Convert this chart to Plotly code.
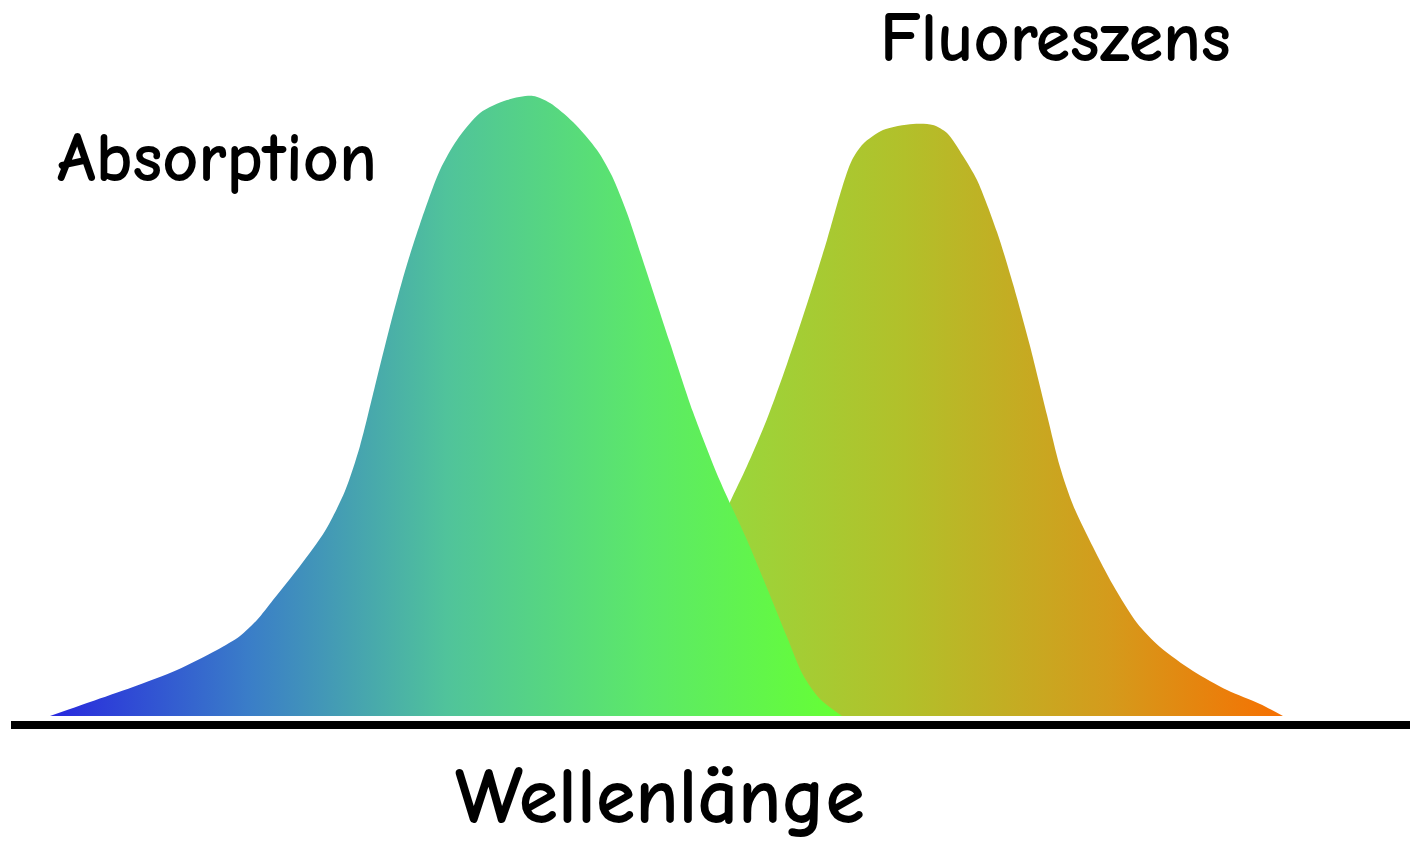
import plotly.graph_objects as go

# Absorption band: wavelength position (arbitrary units) and intensity
abs_x = [50, 90, 133, 177, 217, 240, 257, 273, 300, 325, 345, 360, 375, 390, 405, 420, 440, 457,
         480, 507, 533, 550, 573, 597, 612, 627, 647, 670, 693, 720, 747, 767, 787, 803, 820, 842]
abs_y = [0, 14, 29, 46, 66, 80, 96, 116, 150, 185, 225, 270, 330, 390, 445, 492, 546, 576,
         603, 616, 620, 613, 594, 566, 540, 503, 443, 373, 304, 235, 176, 128, 79, 41, 17, 0]

# Fluorescence band
flu_x = [600, 620, 640, 660, 680, 700, 715, 730, 747, 767, 787, 807, 827, 842, 852, 863, 883, 913,
         933, 947, 963, 977, 997, 1013, 1030, 1047, 1060, 1073, 1093, 1113, 1137, 1160, 1193, 1227,
         1260, 1283]
flu_y = [0, 4, 20, 50, 90, 140, 180, 214, 250, 297, 352, 412, 476, 528, 556, 572, 586, 592,
         591, 583, 560, 536, 484, 432, 370, 301, 249, 211, 169, 131, 93, 69, 45, 26,
         12, 0]

abs_colors = [[0.0, "rgb(40,40,222)"], [0.25, "rgb(58,125,200)"], [0.5, "rgb(80,195,155)"],
              [0.75, "rgb(92,232,105)"], [1.0, "rgb(102,255,52)"]]
flu_colors = [[0.0, "rgb(150,218,62)"], [0.35, "rgb(178,192,42)"], [0.7, "rgb(212,155,28)"],
              [1.0, "rgb(246,112,2)"]]

labels = {"abs": "Absorption", "flu": "Fluoreszens", "x": "Wellenlänge"}

FONT = "Comic Neue, Lato, sans-serif"

fig = go.Figure()
fig.add_trace(go.Scatter(
    x=flu_x, y=flu_y, mode="lines", line=dict(width=0, shape="spline", smoothing=0.8),
    fill="tozeroy",
    fillgradient=dict(type="horizontal", colorscale=flu_colors, start=700, stop=1283),
    hoverinfo="skip", showlegend=False,
))
fig.add_trace(go.Scatter(
    x=abs_x, y=abs_y, mode="lines", line=dict(width=0, shape="spline", smoothing=0.8),
    fill="tozeroy",
    fillgradient=dict(type="horizontal", colorscale=abs_colors, start=50, stop=842),
    hoverinfo="skip", showlegend=False,
))

fig.add_annotation(x=217, y=558, xref="x", yref="y", text=labels["abs"], showarrow=False,
                   font=dict(family=FONT, size=70, color="black", weight="bold"),
                   xanchor="center", yanchor="middle")
fig.add_annotation(x=1055, y=678, xref="x", yref="y", text=labels["flu"], showarrow=False,
                   font=dict(family=FONT, size=70, color="black", weight="bold"),
                   xanchor="center", yanchor="middle")
fig.add_annotation(x=660, y=-0.106, xref="x", yref="paper", text=labels["x"], showarrow=False,
                   font=dict(family=FONT, size=80, color="black", weight="bold"),
                   xanchor="center", yanchor="middle")

fig.update_xaxes(range=[11, 1410], showgrid=False, zeroline=False, showticklabels=False,
                 ticks="", showline=True, linecolor="black", linewidth=8)
fig.update_yaxes(range=[-5, 716], showgrid=False, zeroline=False, showticklabels=False,
                 ticks="", showline=False)
fig.update_layout(width=1410, height=845, margin=dict(l=11, r=0, t=0, b=124),
                  plot_bgcolor="white", paper_bgcolor="white")

fig.write_html("out.html", config={"displayModeBar": False},
               post_script="document.body.style.margin='0';document.body.style.overflow='hidden';")
